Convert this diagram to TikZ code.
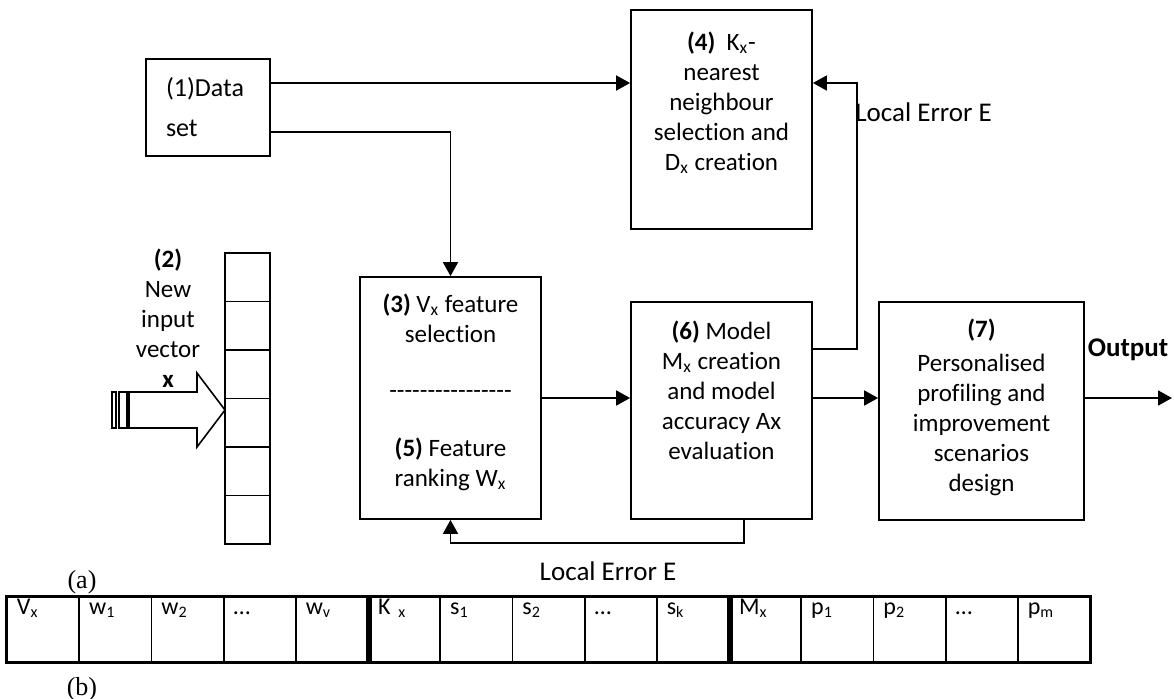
\documentclass[tikz,border=0pt]{standalone}
\usepackage{fontspec}
\setmainfont{Carlito}[Ligatures=NoCommon]
\newfontfamily\serifrm{Liberation Serif}
\usetikzlibrary{positioning,arrows.meta,calc}
\tikzset{
  >={Triangle[length=7pt,width=7.5pt]},
  blk/.style={draw,line width=0.9pt,inner sep=0pt},
  blktxt/.style={align=center,inner sep=0pt,font=\fontsize{12.5}{15}\selectfont},
  flow/.style={->,line width=0.9pt},
  errlbl/.style={inner sep=0pt,font=\fontsize{13.5}{15}\selectfont},
  vcell/.style={draw,line width=0.9pt,minimum width=22.5pt,minimum height=24.25pt,inner sep=0pt},
  tcell/.style={draw,line width=0.9pt,text width=26.1pt,inner xsep=5pt,inner ysep=0pt,
    text height=8.5pt,text depth=24pt,align=left,font=\fontsize{12}{14}\selectfont},
  sepline/.style={line width=3pt},
  sublbl/.style={inner sep=0pt,font=\serifrm\fontsize{13}{15}\selectfont},
}

\begin{document}
\begin{tikzpicture}[x=0.5pt,y=-0.5pt]
  \useasboundingbox (0,0) rectangle (1174,698);
  \node[blk,text width=42pt,inner xsep=10pt,minimum height=48.5pt,align=left,
    font=\fontsize{13}{20}\selectfont] (data) at (208,107.5) {(1)Data\\set};
  \node[blk,minimum width=90.5pt,minimum height=109.5pt] (knn) at (721.5,119.5) {};
  \node[blk,minimum width=90.5pt,minimum height=121pt] (fsel) at (450.5,398) {};
  \node[blk,minimum width=90.5pt,minimum height=108.5pt] (model) at (721.5,410.5) {};
  \node[blk,minimum width=102.5pt,minimum height=109pt] (prof) at (981.5,411) {};
  \node[blktxt,below=11pt of knn.north] (knntxt)
    {\textbf{(4)}\ \ K\textsubscript{x}-\\nearest\\neighbour\\selection and\\D\textsubscript{x} creation};
  \node[blktxt,below=8.5pt of fsel.north] (fseltxt)
    {\textbf{(3)} V\textsubscript{x} feature\\selection\\[13pt]
     -{}-{}-{}-{}-{}-{}-{}-{}-{}-{}-{}-{}-{}-{}-{}-\\[14pt]
     \textbf{(5)} Feature\\ranking W\textsubscript{x}};
  \node[blktxt,below=9.5pt of model.north] (modeltxt)
    {\textbf{(6)} Model\\M\textsubscript{x} creation\\and model\\accuracy Ax\\evaluation};
  \node[blktxt,below=8.5pt of prof.north] (proftxt)
    {\textbf{(7)}\\[2pt]Personalised\\profiling and\\improvement\\scenarios\\design};

  \foreach \i in {0,...,5}
    \node[vcell] (v\i) at (247.5,277.25+48.5*\i) {};
  \draw[line width=0.8pt,fill=white] (129,392) -- (197,392) -- (197,373) -- (225,410)
    -- (197,447) -- (197,428) -- (129,428) -- cycle;
  \draw[line width=0.6pt] (112,392) rectangle (116,428) (119,392) rectangle (127,428);
  \node[blktxt] (inlbl) at (168,318.5) {\textbf{(2)}\\New\\input\\vector\\\textbf{x}};

  \coordinate (ytop) at (0,83);
  \coordinate (ydata) at (0,132);
  \coordinate (ymain) at (0,398);
  \coordinate (e1) at (857,349);
  \coordinate (e2) at (744,543);
  \coordinate (out) at (1172,398);
  \draw[flow] (data.east |- ytop) -- (knn.west |- ytop);
  \draw[flow] (data.east |- ydata) -| (fsel.north);
  \draw[flow] (fsel.east |- ymain) -- (model.west |- ymain);
  \draw[flow] (model.east |- ymain) -- (prof.west |- ymain);
  \draw[flow] (prof.east |- ymain) -- (out);
  \draw[flow] (model.east |- e1) -- (e1) |- (knn.east |- ytop);
  \draw[flow] (model.south -| e2) -- (e2) -| (fsel.south);
  \node[errlbl,anchor=west] (err1) at (855,112) {Local Error E};
  \node[errlbl] (err2) at (608,571) {Local Error E};
  \node[errlbl,font=\bfseries\fontsize{13.5}{15}\selectfont] (outlbl) at (1128,350) {Output};

  \foreach \t [count=\i from 0] in {V\textsubscript{x},w\textsubscript{1},w\textsubscript{2},…,
      w\textsubscript{v},K\ \textsubscript{x},s\textsubscript{1},s\textsubscript{2},…,s\textsubscript{k},
      M\textsubscript{x},p\textsubscript{1},p\textsubscript{2},…,p\textsubscript{m}}
    \node[tcell] (c\i) at (43.1+72.2*\i,629.5) {\t};
  \draw[sepline] (c4.north east) -- (c4.south east);
  \draw[sepline] (c9.north east) -- (c9.south east);
  \draw[line width=1.3pt] (c0.north west) rectangle (c14.south east);
  \node[sublbl] (lbla) at (82,582) {(a)};
  \node[sublbl] (lblb) at (82,689) {(b)};
\end{tikzpicture}
\end{document}
